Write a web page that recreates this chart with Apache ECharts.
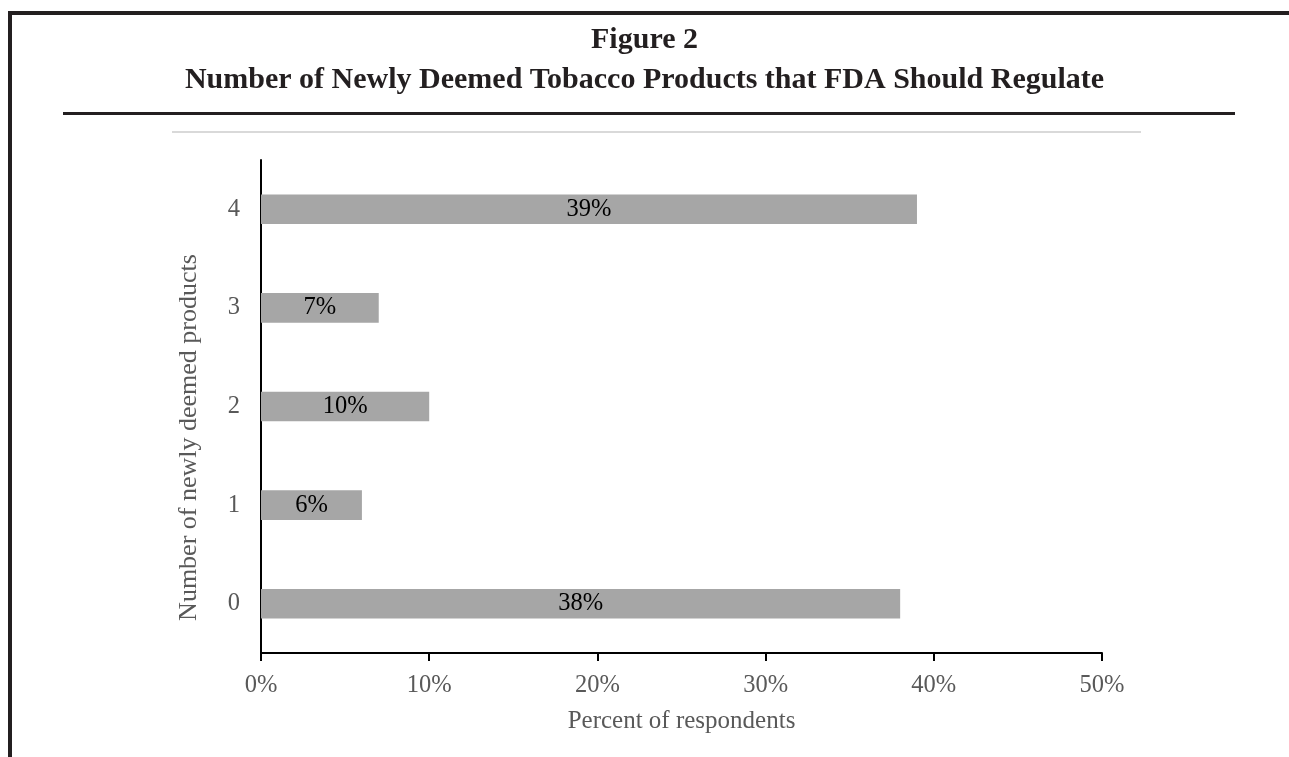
<!DOCTYPE html>
<html><head><meta charset="utf-8">
<script src="https://cdn.jsdelivr.net/npm/echarts@6/dist/echarts.min.js"></script>
<style>html,body{margin:0;padding:0;background:#fff}#c{width:1289px;height:757px}</style>
</head><body><div id="c"></div>
<script>
const categories = ['0', '1', '2', '3', '4'];
const values = [38, 6, 10, 7, 39];
const xTicks = [0, 10, 20, 30, 40, 50];
const titleLine1 = 'Figure 2';
const titleLine2 = 'Number of Newly Deemed Tobacco Products that FDA Should Regulate';

const serif = '"Liberation Serif", "DejaVu Serif", serif';
const chart = echarts.init(document.getElementById('c'));
chart.setOption({
  animation: false,
  backgroundColor: '#fff',
  title: {
    text: titleLine1 + '\n' + titleLine2,
    left: 'center',
    top: 15,
    textStyle: { fontFamily: serif, fontWeight: 'bold', fontSize: 30, color: '#231f20', lineHeight: 40 }
  },
  graphic: [
    { type: 'rect', shape: { x: 8, y: 11, width: 1281, height: 4 }, style: { fill: '#231f20' } },
    { type: 'rect', shape: { x: 8, y: 11, width: 4, height: 746 }, style: { fill: '#231f20' } },
    { type: 'rect', shape: { x: 63, y: 112, width: 1172, height: 3 }, style: { fill: '#231f20' } },
    { type: 'rect', shape: { x: 172, y: 131, width: 969, height: 2 }, style: { fill: '#d9d9d9' } }
  ],
  grid: { left: 261, right: 187, top: 160, bottom: 104, containLabel: false },
  xAxis: {
    type: 'value',
    min: xTicks[0], max: xTicks[xTicks.length - 1], interval: 10,
    name: 'Percent of respondents',
    nameLocation: 'middle',
    nameGap: 56,
    nameTextStyle: { fontFamily: serif, fontSize: 25, color: '#595959' },
    axisLine: { show: true, lineStyle: { color: '#000', width: 2 } },
    axisTick: { show: true, length: 8, lineStyle: { color: '#000', width: 2 } },
    axisLabel: { formatter: '{value}%', margin: 20, fontFamily: serif, fontSize: 24.5, color: '#595959' },
    splitLine: { show: false }
  },
  yAxis: {
    type: 'category',
    data: categories,
    name: 'Number of newly deemed products',
    nameLocation: 'middle',
    nameGap: 59,
    nameTextStyle: { fontFamily: serif, fontSize: 26, color: '#595959', padding: [0, 62, 0, 0] },
    axisLine: { show: true, lineStyle: { color: '#000', width: 2 } },
    axisTick: { show: false },
    axisLabel: { margin: 21, fontFamily: serif, fontSize: 24.5, color: '#595959' }
  },
  series: [{
    type: 'bar',
    data: values,
    barWidth: '30%',
    itemStyle: { color: '#a6a6a6' },
    label: {
      show: true, position: 'inside', formatter: '{c}%',
      fontFamily: serif, fontSize: 24.5, color: '#000'
    }
  }]
});
</script></body></html>
